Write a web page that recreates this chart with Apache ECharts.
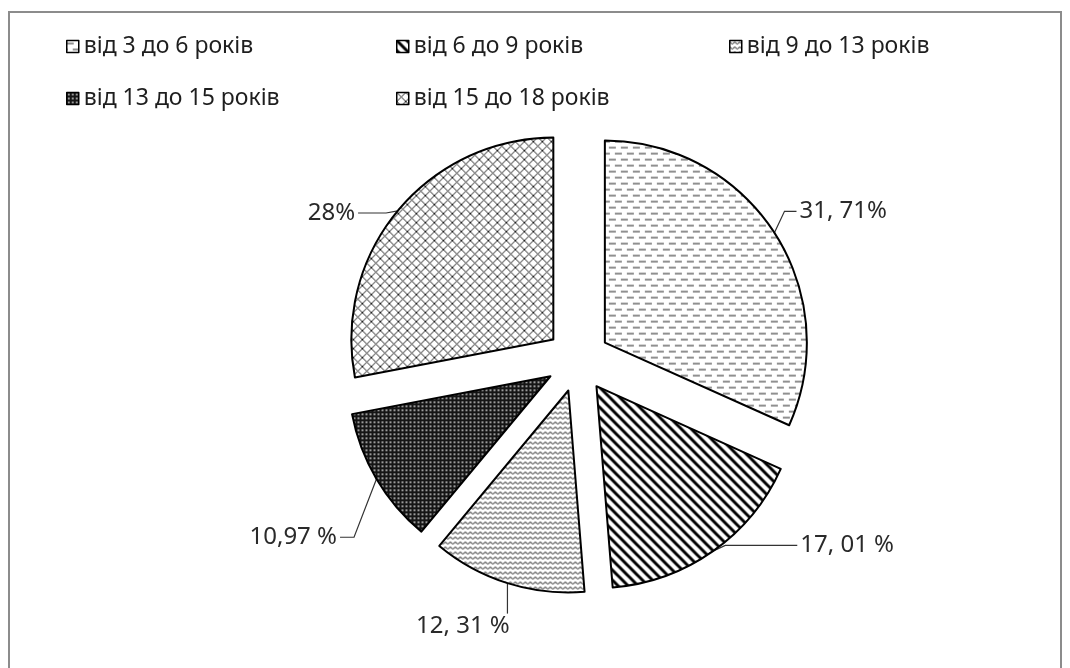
<!DOCTYPE html>
<html><head><meta charset="utf-8">
<script src="https://cdn.jsdelivr.net/npm/echarts@6/dist/echarts.min.js"></script>
<style>html,body{margin:0;padding:0;background:#fff}#c{width:1070px;height:668px}</style>
</head><body><div id="c"></div>
<script>
// ---- data ----
const categories = ["від 3 до 6 років", "від 6 до 9 років", "від 9 до 13 років", "від 13 до 15 років", "від 15 до 18 років"];
const values = [31.71, 17.01, 12.31, 10.97, 28];
const valueLabels = ["31, 71%", "17, 01 %", "12, 31 %", "10,97 %", "28%"];
const patternKinds = ["dash", "diag", "zigzag", "dots", "cross"];

// ---- pattern fills ----
function makePattern(kind) {
  const c = document.createElement('canvas');
  let ctx;
  if (kind === 'dash') {
    c.width = 12; c.height = 12; ctx = c.getContext('2d');
    ctx.fillStyle = '#fff'; ctx.fillRect(0, 0, 12, 12);
    ctx.strokeStyle = '#222'; ctx.lineWidth = 1.2;
    ctx.beginPath();
    ctx.moveTo(0, 3); ctx.lineTo(7, 3);
    ctx.moveTo(6, 9); ctx.lineTo(12, 9);
    ctx.moveTo(0, 9); ctx.lineTo(1, 9);
    ctx.stroke();
  } else if (kind === 'diag') {
    c.width = 10; c.height = 10; ctx = c.getContext('2d');
    ctx.fillStyle = '#fff'; ctx.fillRect(0, 0, 10, 10);
    ctx.strokeStyle = '#000'; ctx.lineWidth = 3;
    ctx.beginPath();
    for (const o of [-10, 0, 10]) { ctx.moveTo(o - 1, -1); ctx.lineTo(o + 11, 11); }
    ctx.stroke();
  } else if (kind === 'zigzag') {
    c.width = 5; c.height = 5; ctx = c.getContext('2d');
    ctx.fillStyle = '#fff'; ctx.fillRect(0, 0, 5, 5);
    ctx.strokeStyle = '#111'; ctx.lineWidth = 1;
    ctx.beginPath();
    ctx.moveTo(0, 1.5); ctx.lineTo(2.5, 3.5); ctx.lineTo(5, 1.5);
    ctx.stroke();
  } else if (kind === 'dots') {
    c.width = 4; c.height = 4; ctx = c.getContext('2d');
    ctx.fillStyle = '#151515'; ctx.fillRect(0, 0, 4, 4);
    ctx.fillStyle = '#9a9a9a'; ctx.fillRect(1, 1, 2, 2);
  } else {
    c.width = 9; c.height = 9; ctx = c.getContext('2d');
    ctx.fillStyle = '#fff'; ctx.fillRect(0, 0, 9, 9);
    ctx.strokeStyle = '#222'; ctx.lineWidth = 1;
    ctx.beginPath();
    for (const o of [-9, 0, 9]) {
      ctx.moveTo(o, 0); ctx.lineTo(o + 9, 9);
      ctx.moveTo(o + 9, 0); ctx.lineTo(o, 9);
    }
    ctx.stroke();
  }
  return { image: c, repeat: 'repeat' };
}

// per-slice leader line lengths, label nudges and leader style (layout only)
const lineLen = [[12, 12], [4, 72], [32, 4], [40, 14], [6, 28]];
const labelNudge = [[0, -15], [10, -9], [19, 13], [12, 38], [-7, 6]];
const leaderBelow = [false, false, true, false, false];
const legendPos = [[66, 35], [396, 35], [729, 35], [66, 87], [396, 87]];

const chart = echarts.init(document.getElementById('c'), null, { renderer: 'canvas' });
const FONT = '"Noto Sans", "DejaVu Sans", sans-serif';

const data = categories.map((name, i) => ({
  name, value: values[i], selected: true,
  itemStyle: { color: makePattern(patternKinds[i]), borderColor: '#000', borderWidth: 2 },
  label: { formatter: valueLabels[i] },
  labelLine: { length: lineLen[i][0], length2: lineLen[i][1] }
}));

chart.setOption({
  backgroundColor: '#fff',
  animation: false,
  graphic: [{
    type: 'rect', shape: { x: 9, y: 12, width: 1052, height: 700 },
    style: { fill: 'none', stroke: '#8c8c8c', lineWidth: 2 }, silent: true
  }],
  legend: categories.map((name, i) => ({
    data: [name], left: legendPos[i][0], top: legendPos[i][1], padding: 0,
    itemWidth: 12, itemHeight: 12, icon: 'rect', selectedMode: false,
    itemStyle: { borderColor: '#000', borderWidth: 1.5 },
    textStyle: { fontFamily: FONT, fontSize: 23, color: '#1e1e1e' }
  })),
  series: [{
    type: 'pie',
    center: [578, 360], radius: 202,
    startAngle: 90, clockwise: true,
    selectedMode: 'multiple', selectedOffset: 32,
    avoidLabelOverlap: false,
    emphasis: { disabled: true },
    label: { show: true, position: 'outside', fontFamily: FONT, fontSize: 24, color: '#2a2a2a', distanceToLabelLine: 3 },
    labelLine: { show: true, lineStyle: { color: '#333', width: 1.2 } },
    labelLayout: function (p) {
      const i = p.dataIndex, n = labelNudge[i];
      const out = { dx: n[0], dy: n[1] };
      const pts = p.labelLinePoints;
      if (pts && pts.length === 3) {
        const p0 = [pts[0][0], pts[0][1]];
        if (leaderBelow[i]) {
          const top = p.labelRect.y + n[1] - 1;
          out.labelLinePoints = [p0, [p0[0], top], [p0[0], top]];
        } else {
          out.labelLinePoints = [p0,
            [pts[1][0] + n[0], pts[1][1] + n[1]],
            [pts[2][0] + n[0], pts[2][1] + n[1]]];
        }
      }
      return out;
    },
    data
  }]
});
</script>
</body></html>
